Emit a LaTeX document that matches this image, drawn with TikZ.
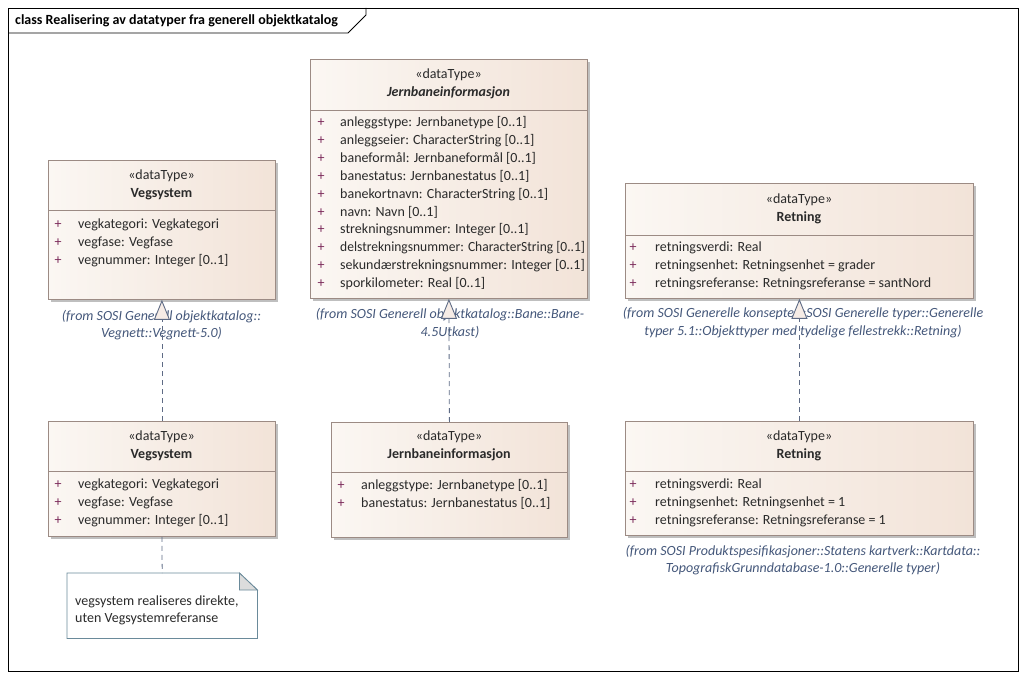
\documentclass[tikz,border=0pt]{standalone}
\usepackage{fontspec}
\setmainfont{Carlito}
\usetikzlibrary{shadows,arrows.meta}
\definecolor{boxL}{HTML}{FBF7F3}
\definecolor{boxR}{HTML}{F2E3D8}
\definecolor{boxB}{HTML}{9C8B84}
\definecolor{txtc}{HTML}{2A2A2A}
\definecolor{plusc}{HTML}{7B2A5A}
\definecolor{fromc}{HTML}{44577A}
\definecolor{linec}{HTML}{5E6B85}
\definecolor{notec}{HTML}{6A8A9A}
\definecolor{triF}{HTML}{F6ECE6}
\definecolor{earF}{HTML}{DCDCDC}
\tikzset{
  x=1pt, y=-1pt,
  classbox/.style={draw=boxB, line width=0.8pt, left color=boxL, right color=boxR,
    anchor=north west, inner sep=0pt,
    drop shadow={shadow xshift=3pt, shadow yshift=-3pt, fill=black!25, opacity=1}},
  sep/.style={draw=boxB, line width=0.8pt},
  base/.style={inner sep=0pt, text height=10.5pt, text depth=3.5pt, font=\fontsize{14}{16}\selectfont},
  stereo/.style={base, text=txtc},
  cname/.style={base, text=txtc, font=\fontsize{14}{16}\selectfont\bfseries},
  aname/.style={base, text=txtc, font=\fontsize{14}{16}\selectfont\bfseries\itshape},
  plus/.style={base, text=plusc},
  attr/.style={base, text=txtc, anchor=west},
  from/.style={base, text=fromc, font=\fontsize{14}{16}\selectfont\itshape},
  realize/.style={draw=linec, line width=0.8pt, dash pattern=on 5pt off 4pt,
    -{Triangle[open, length=20pt, width=16pt, fill=triF, line width=0.9pt]}},
  dashline/.style={draw=linec, line width=0.8pt, dash pattern=on 5pt off 4pt},
  notebox/.style={anchor=north west, inner sep=0pt, fill=white},
  notetext/.style={base, text=txtc, anchor=west},
  frameline/.style={draw=black, line width=0.8pt},
  titletext/.style={inner sep=0pt, anchor=west, text=black, font=\fontsize{14}{16}\selectfont\bfseries}
}
\begin{document}
\begin{tikzpicture}
\useasboundingbox (0,0) rectangle (1025,679);
% frame
\draw[frameline] (8,8) rectangle (1018,671);
\draw[frameline] (8,33) -- (348,33) -- (366,15) -- (366,8);
\node[titletext] (title) at (15,21) {class Realisering av datatyper fra generell objektkatalog};

% ---------- Vegsystem (top)
\node[classbox, minimum width=227pt, minimum height=139pt] (veg1) at (48,160) {};
\draw[sep] (48,210) -- (275,210);
\node[stereo] (veg1s) at (161.5,176) {«dataType»};
\node[cname] (veg1n) at (161.5,194) {Vegsystem};
\node[plus] (veg1p1) at (58,225) {+};
\node[plus] (veg1p2) at (58,243) {+};
\node[plus] (veg1p3) at (58,261) {+};
\node[attr] (veg1a1) at (78,225) {vegkategori: Vegkategori};
\node[attr] (veg1a2) at (78,243) {vegfase: Vegfase};
\node[attr] (veg1a3) at (78,261) {vegnummer: Integer [0..1]};
\node[from] (veg1f1) at (161.5,317) {(from SOSI Generell objektkatalog::};
\node[from] (veg1f2) at (161.5,334) {Vegnett::Vegnett-5.0)};

% ---------- Vegsystem (bottom)
\node[classbox, minimum width=227pt, minimum height=115pt] (veg2) at (48,421) {};
\draw[sep] (48,471) -- (275,471);
\node[stereo] (veg2s) at (161.5,437) {«dataType»};
\node[cname] (veg2n) at (161.5,455) {Vegsystem};
\node[plus] (veg2p1) at (58,485) {+};
\node[plus] (veg2p2) at (58,503) {+};
\node[plus] (veg2p3) at (58,521) {+};
\node[attr] (veg2a1) at (78,485) {vegkategori: Vegkategori};
\node[attr] (veg2a2) at (78,503) {vegfase: Vegfase};
\node[attr] (veg2a3) at (78,521) {vegnummer: Integer [0..1]};

% ---------- Note
\node[notebox, minimum width=190pt, minimum height=65pt] (note) at (67,573) {};
\draw[notec, line width=0.8pt] (note.north west) -- ([xshift=-18pt]note.north east)
  -- ([yshift=-17pt]note.north east) -- (note.south east) -- (note.south west) -- cycle;
\draw[notec, line width=0.8pt, fill=earF] ([xshift=-18pt]note.north east)
  -- ([xshift=-18pt,yshift=-17pt]note.north east) -- ([yshift=-17pt]note.north east) -- cycle;
\node[notetext] (note1) at (75,602) {vegsystem realiseres direkte,};
\node[notetext] (note2) at (75,619) {uten Vegsystemreferanse};

% ---------- Jernbaneinformasjon (top)
\node[classbox, minimum width=277pt, minimum height=239pt] (jb1) at (310,59) {};
\draw[sep] (310,110) -- (587,110);
\node[stereo] (jb1s) at (448.5,75) {«dataType»};
\node[aname] (jb1n) at (448.5,93) {Jernbaneinformasjon};
\foreach \i/\t in {0/{anleggstype: Jernbanetype [0..1]},
                   1/{anleggseier: CharacterString [0..1]},
                   2/{baneformål: Jernbaneformål [0..1]},
                   3/{banestatus: Jernbanestatus [0..1]},
                   4/{banekortnavn: CharacterString [0..1]},
                   5/{navn: Navn [0..1]},
                   6/{strekningsnummer: Integer [0..1]},
                   7/{\scalebox{0.965}[1]{delstrekningsnummer: CharacterString [0..1]}},
                   8/{sekundærstrekningsnummer: Integer [0..1]},
                   9/{sporkilometer: Real [0..1]}}{
  \node[plus] (jb1p\i) at (321,123+17.9*\i) {+};
  \node[attr] (jb1a\i) at (340,123+17.9*\i) {\t};
}
\node[from] (jb1f1) at (450,315) {(from SOSI Generell objektkatalog::Bane::Bane-};
\node[from] (jb1f2) at (450,333) {4.5Utkast)};

% ---------- Jernbaneinformasjon (bottom)
\node[classbox, minimum width=236pt, minimum height=115pt] (jb2) at (331,422) {};
\draw[sep] (331,472) -- (567,472);
\node[stereo] (jb2s) at (449,437) {«dataType»};
\node[cname] (jb2n) at (449,455) {Jernbaneinformasjon};
\node[plus] (jb2p1) at (341,486) {+};
\node[plus] (jb2p2) at (341,504) {+};
\node[attr] (jb2a1) at (361,486) {anleggstype: Jernbanetype [0..1]};
\node[attr] (jb2a2) at (361,504) {banestatus: Jernbanestatus [0..1]};

% ---------- Retning (top)
\node[classbox, minimum width=348pt, minimum height=115pt] (ret1) at (625,183) {};
\draw[sep] (625,235) -- (973,235);
\node[stereo] (ret1s) at (799,200) {«dataType»};
\node[cname] (ret1n) at (799,218) {Retning};
\node[plus] (ret1p1) at (633,248) {+};
\node[plus] (ret1p2) at (633,266) {+};
\node[plus] (ret1p3) at (633,284) {+};
\node[attr] (ret1a1) at (655,248) {retningsverdi: Real};
\node[attr] (ret1a2) at (655,266) {retningsenhet: Retningsenhet = grader};
\node[attr] (ret1a3) at (655,284) {retningsreferanse: Retningsreferanse = santNord};
\node[from] (ret1f1) at (803,314) {(from SOSI Generelle konsepter::SOSI Generelle typer::Generelle};
\node[from] (ret1f2) at (803,332) {typer 5.1::Objekttyper med tydelige fellestrekk::Retning)};

% ---------- Retning (bottom)
\node[classbox, minimum width=348pt, minimum height=114pt] (ret2) at (625,421) {};
\draw[sep] (625,471) -- (973,471);
\node[stereo] (ret2s) at (799,437) {«dataType»};
\node[cname] (ret2n) at (799,455) {Retning};
\node[plus] (ret2p1) at (633,485) {+};
\node[plus] (ret2p2) at (633,503) {+};
\node[plus] (ret2p3) at (633,521) {+};
\node[attr] (ret2a1) at (655,485) {retningsverdi: Real};
\node[attr] (ret2a2) at (655,503) {retningsenhet: Retningsenhet = 1};
\node[attr] (ret2a3) at (655,521) {retningsreferanse: Retningsreferanse = 1};
\node[from] (ret2f1) at (803,552) {(from SOSI Produktspesifikasjoner::Statens kartverk::Kartdata::};
\node[from] (ret2f2) at (803,569) {TopografiskGrunndatabase-1.0::Generelle typer)};

% ---------- connectors
\draw[realize] (veg2.north) -- (veg1.south);
\draw[realize] (jb2.north) -- (jb1.south);
\draw[realize] (ret2.north) -- (ret1.south);
\draw[dashline] (veg2.south) -- (note.north);
\end{tikzpicture}
\end{document}
